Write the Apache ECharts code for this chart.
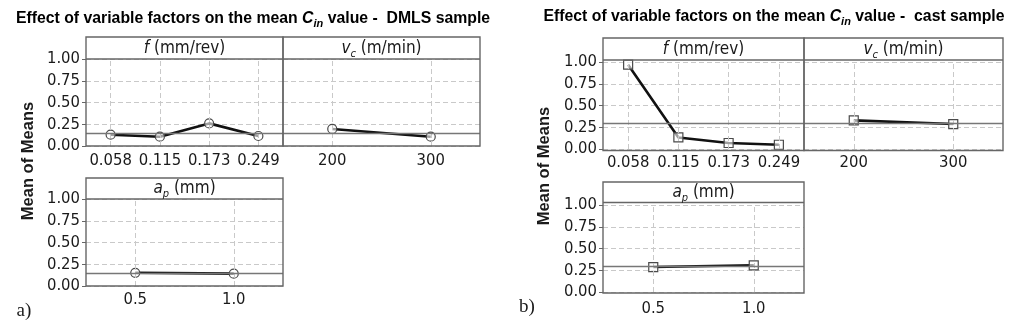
<!DOCTYPE html>
<html><head><meta charset="utf-8">
<script src="https://cdn.jsdelivr.net/npm/echarts@6/dist/echarts.min.js"></script>
<style>html,body{margin:0;padding:0;background:#fff}#chart{width:1024px;height:323px}</style>
</head><body><div id="chart"></div>
<script>
// Factor levels (x categories)
const feedLevels = ['0.058', '0.115', '0.173', '0.249'];
const speedLevels = ['200', '300'];
const depthLevels = ['0.5', '1.0'];

// Mean C_in per factor level - DMLS sample
const dmlsFeed = [0.130, 0.107, 0.260, 0.115];
const dmlsSpeed = [0.196, 0.107];
const dmlsDepth = [0.152, 0.142];
const dmlsGrandMean = 0.152;

// Mean C_in per factor level - cast sample
const castFeed = [0.969, 0.133, 0.069, 0.049];
const castSpeed = [0.329, 0.287];
const castDepth = [0.287, 0.307];
const castGrandMean = 0.302;

const TXT = '#1a1a1a';
const FRAME = '#666';
const GRIDC = '#c9c9c9';
const sans = '"DejaVu Sans Condensed", "DejaVu Sans", sans-serif';

// one entry per factor panel: plot box [left, top, width, height] spans y = 0..1
const panels = [
  { levels: feedLevels, values: dmlsFeed, mean: dmlsGrandMean, header: '{i|f}{n| (mm/rev)}',
    box: [86, 59, 197, 87], frameTop: 37, padTop: 0, padBottom: 0, yLabels: true, symbol: 'circle', xMargin: 6 },
  { levels: speedLevels, values: dmlsSpeed, mean: dmlsGrandMean, header: '{i|v}{sub|c}{n| (m/min)}',
    box: [283, 59, 197, 87], frameTop: 37, padTop: 0, padBottom: 0, yLabels: false, symbol: 'circle', xMargin: 6 },
  { levels: depthLevels, values: dmlsDepth, mean: dmlsGrandMean, header: '{i|a}{sub|p}{n| (mm)}',
    box: [86, 199, 197, 87], frameTop: 178, padTop: 0, padBottom: 0, yLabels: true, symbol: 'circle', xMargin: 5 },
  { levels: feedLevels, values: castFeed, mean: castGrandMean, header: '{i|f}{n| (mm/rev)}',
    box: [603, 62, 201, 87], frameTop: 38, padTop: 2, padBottom: 1.5, yLabels: true, symbol: 'rect', xMargin: 5 },
  { levels: speedLevels, values: castSpeed, mean: castGrandMean, header: '{i|v}{sub|c}{n| (m/min)}',
    box: [804, 62, 199, 87], frameTop: 38, padTop: 2, padBottom: 1.5, yLabels: false, symbol: 'rect', xMargin: 5 },
  { levels: depthLevels, values: castDepth, mean: castGrandMean, header: '{i|a}{sub|p}{n| (mm)}',
    box: [603, 205, 201, 87], frameTop: 182, padTop: 2.5, padBottom: 1, yLabels: true, symbol: 'rect', xMargin: 8 }
];

const stripRich = {
  n: { fontFamily: sans, fontSize: 17, color: TXT, lineHeight: 22, verticalAlign: 'middle' },
  i: { fontFamily: sans, fontSize: 17, fontStyle: 'italic', color: TXT, lineHeight: 22, verticalAlign: 'middle' },
  sub: { fontFamily: sans, fontSize: 11, fontStyle: 'italic', color: TXT, lineHeight: 13, verticalAlign: 'bottom' }
};

const grids = [], xAxes = [], yAxes = [], series = [], graphics = [];

panels.forEach((p, k) => {
  const [l, t, w, h] = p.box;
  grids.push({ left: l, top: t, width: w, height: h, show: false });
  xAxes.push({
    type: 'category', gridIndex: k, data: p.levels, boundaryGap: true,
    axisLine: { show: false }, axisTick: { show: false }, splitLine: { show: false },
    axisLabel: { fontFamily: sans, fontSize: 16.5, color: TXT, margin: p.xMargin, interval: 0 }
  });
  yAxes.push({
    type: 'value', gridIndex: k, min: 0, max: 1, interval: 0.25,
    axisLine: { show: false },
    axisTick: { show: p.yLabels, length: 4, lineStyle: { color: FRAME, width: 1 } },
    axisLabel: { show: p.yLabels, fontFamily: sans, fontSize: 16.5, color: TXT, margin: 6,
      formatter: v => v.toFixed(2) },
    splitLine: { show: true, lineStyle: { type: [5, 3], color: GRIDC, width: 1 } }
  });
  // vertical reference lines at each level, and the grand mean line
  series.push({
    type: 'line', xAxisIndex: k, yAxisIndex: k, data: [], z: 1, silent: true,
    markLine: {
      silent: true, symbol: 'none', label: { show: false }, animation: false,
      data: p.levels.map(v => ({ xAxis: v, lineStyle: { type: [5, 3], color: GRIDC, width: 1 } }))
        .concat([{ yAxis: p.mean, lineStyle: { type: 'solid', color: '#777', width: 1.3 } }])
    }
  });
  series.push({
    type: 'line', xAxisIndex: k, yAxisIndex: k, data: p.values, z: 3,
    symbol: p.symbol, symbolSize: 9, showAllSymbol: true,
    lineStyle: { color: '#111', width: 2.6 },
    itemStyle: { color: 'rgba(255,255,255,0.6)', borderColor: '#4a4a4a', borderWidth: 1.2 },
    animation: false
  });
  // panel frame and factor strip
  const stripBottom = t - p.padTop;
  graphics.push({
    type: 'rect', z: 10, silent: true,
    shape: { x: l, y: p.frameTop, width: w, height: t + h + p.padBottom - p.frameTop },
    style: { fill: 'none', stroke: FRAME, lineWidth: 1.4 }
  });
  graphics.push({
    type: 'line', z: 10, silent: true,
    shape: { x1: l, y1: stripBottom, x2: l + w, y2: stripBottom },
    style: { stroke: FRAME, lineWidth: 1.4 }
  });
  graphics.push({
    type: 'text', z: 11, silent: true,
    x: l + w / 2, y: (p.frameTop + stripBottom) / 2 + 0.5,
    style: { text: p.header, rich: stripRich, align: 'center', verticalAlign: 'middle',
      fontFamily: sans, fontSize: 17, fill: TXT }
  });
});

const titleRich = {
  b: { fontFamily: 'Liberation Sans', fontWeight: 'bold', fontSize: 15.8, color: TXT, lineHeight: 20, verticalAlign: 'middle' },
  c: { fontFamily: 'Liberation Sans', fontWeight: 'bold', fontStyle: 'italic', fontSize: 15.8, color: TXT, lineHeight: 20, verticalAlign: 'middle' },
  s: { fontFamily: 'Liberation Sans', fontWeight: 'bold', fontStyle: 'italic', fontSize: 11, color: TXT, lineHeight: 13, verticalAlign: 'bottom' }
};
[[253, 19, 'DMLS sample'], [774, 17, 'cast sample']].forEach(([x, y, name]) => {
  graphics.push({
    type: 'text', silent: true, x: x, y: y,
    style: { text: '{b|Effect of variable factors on the mean }{c|C}{s|in}{b| value -  ' + name + '}',
      rich: titleRich, align: 'center', verticalAlign: 'middle' }
  });
});
[[28, 161], [544, 166]].forEach(([x, y]) => {
  graphics.push({
    type: 'text', silent: true, x: x, y: y, rotation: Math.PI / 2,
    style: { text: 'Mean of Means', fontFamily: 'Liberation Sans', fontWeight: 'bold', fontSize: 16.5,
      fill: TXT, align: 'center', verticalAlign: 'middle' }
  });
});
[[24, 311, 'a)'], [527, 307, 'b)']].forEach(([x, y, s]) => {
  graphics.push({
    type: 'text', silent: true, x: x, y: y,
    style: { text: s, fontFamily: 'Liberation Serif', fontSize: 19, fill: TXT, align: 'center', verticalAlign: 'middle' }
  });
});

const chart = echarts.init(document.getElementById('chart'), null, { renderer: 'canvas' });
chart.setOption({
  animation: false,
  backgroundColor: '#fff',
  grid: grids, xAxis: xAxes, yAxis: yAxes, series: series,
  graphic: { elements: graphics }
});
</script>
</body></html>
